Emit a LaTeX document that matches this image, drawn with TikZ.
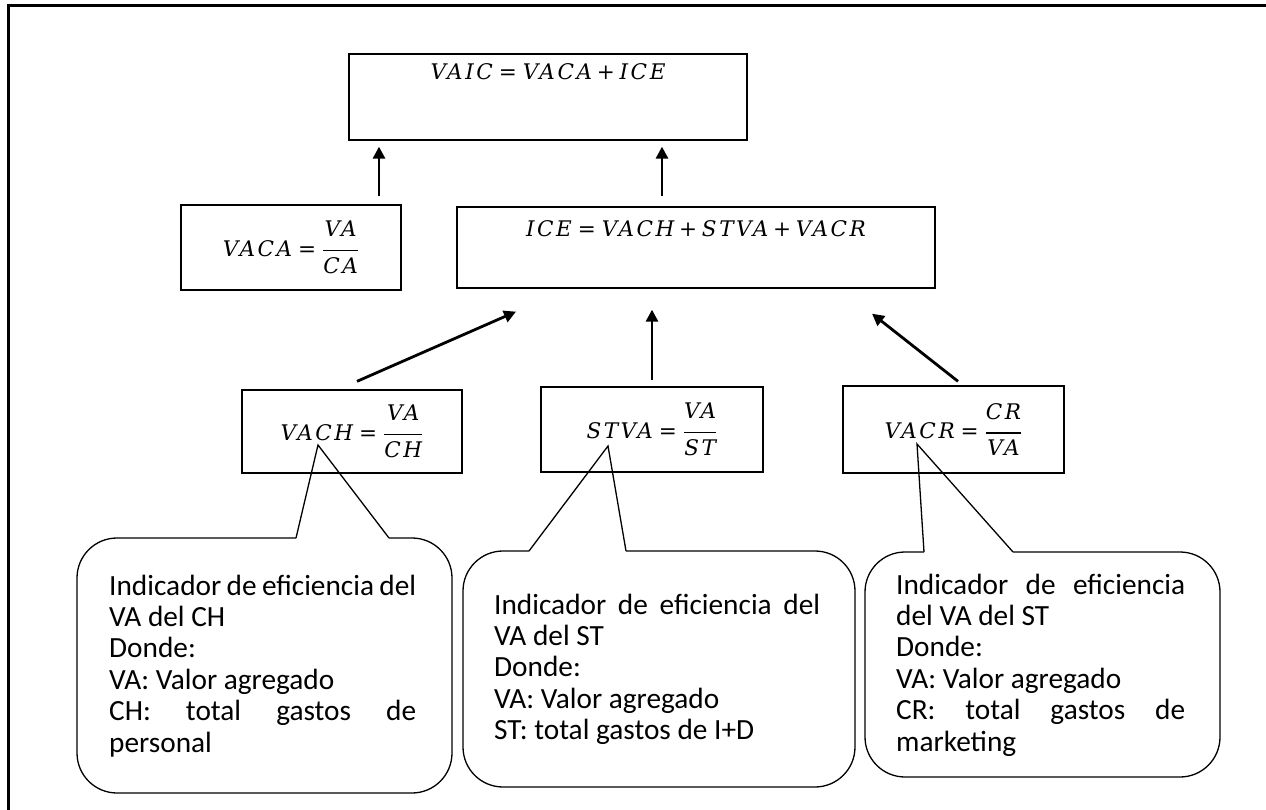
\RequirePackage{fix-cm}
\documentclass[tikz,border=0pt]{standalone}
\usepackage{amsmath}
\usepackage{fontspec}
\newfontfamily\calfont{Carlito}
\newfontfamily\fm{DejaVu Serif}[LetterSpace=12]
\usetikzlibrary{arrows.meta,calc}
\newcommand\jl[2]{\makebox[#1][s]{\spaceskip=0pt\xspaceskip=0pt #2}}
\newcommand\mi[1]{\mbox{\fm\itshape #1}}
\newcommand\eqs{\mathrel{\mbox{\fm=}}}
\newcommand\pls{\mathbin{\mbox{\fm+}}}
\newcommand\fr[2]{\genfrac{}{}{1.1pt}{0}{\mi{#1}\rule[-10pt]{0pt}{10pt}}{\mi{#2}\rule{0pt}{19pt}}}
\begin{document}
\begin{tikzpicture}[x=1pt,y=-1pt,
  box/.style={draw,line width=1.3pt,inner sep=0pt,font=\fm\fontsize{21.5}{25}\selectfont},
  arr/.style={line width=2.8pt,-{Triangle[length=12pt,width=12pt]}},
  callout/.style={line width=1.3pt,rounded corners=40pt},
  pointer/.style={line width=1.3pt,line join=miter},
  ctext/.style={anchor=base west,inner sep=0pt,align=flush left,font=\calfont\fontsize{29.3}{31.4}\selectfont}
]
\useasboundingbox (0,0) rectangle (1266,810);
% outer frame
\draw[line width=3pt] (8,820) -- (8,5.5) -- (1275,5.5);

% callouts
\draw[callout] (296,538) -- (77,538) -- (77,793) -- (452,793) -- (452,538) -- (389,538);
\draw[pointer] (296,538) -- (318,445) -- (389,538);
\draw[callout] (529,551) -- (463,551) -- (463,787) -- (855,787) -- (855,551) -- (626,551);
\draw[pointer] (529,551) -- (608,446) -- (626,551);
\draw[callout] (924,552) -- (865,552) -- (865,777) -- (1220,777) -- (1220,552) -- (1013,552);
\draw[pointer] (924,552) -- (917,444) -- (1013,552);

\node[ctext,text width=307pt] (c1) at (109,595) {\jl{307pt}{Indicador de eficiencia del}\\VA del CH\\Donde:\\VA: Valor agregado\\\jl{307pt}{CH: total gastos de}\\personal};
\node[ctext,text width=326pt] (c2) at (494,614) {\jl{326pt}{Indicador de eficiencia del}\\VA del ST\\Donde:\\VA: Valor agregado\\ST: total gastos de I+D};
\node[ctext,text width=289pt] (c3) at (896,594) {\jl{289pt}{Indicador de eficiencia}\\del VA del ST\\Donde:\\VA: Valor agregado\\\jl{289pt}{CR: total gastos de}\\marketing};

% formula boxes
\node[box,minimum width=398pt,minimum height=86pt,text height=26pt,text depth=60pt] (vaic) at (548,97)
  {$\mi{VAIC}\eqs\mi{VACA}\pls\mi{ICE}$};
\node[box,minimum width=220pt,minimum height=85pt] (vaca) at (291,247.5)
  {$\mi{VACA}\eqs\fr{VA}{CA}$};
\node[box,minimum width=478pt,minimum height=81pt,text height=30pt,text depth=51pt] (ice) at (696,247.5)
  {$\mi{ICE}\eqs\mi{VACH}\pls\mi{STVA}\pls\mi{VACR}$};
\node[box,minimum width=220pt,minimum height=83pt] (vach) at (352,431.5)
  {$\mi{VACH}\eqs\fr{VA}{CH}$};
\node[box,minimum width=222pt,minimum height=85pt] (stva) at (652,429.5)
  {$\mi{STVA}\eqs\fr{VA}{ST}$};
\node[box,minimum width=221pt,minimum height=87pt] (vacr) at (953.5,429.5)
  {$\mi{VACR}\eqs\fr{CR}{VA}$};

% arrows
\draw[arr] ([xshift=88pt,yshift=8pt]vaca.north) -- ([xshift=-169pt,yshift=-6pt]vaic.south);
\draw[arr] ([xshift=-34pt,yshift=10pt]ice.north) -- ([xshift=114pt,yshift=-6pt]vaic.south);
\draw[arr] ($(vach.north)+(5,-8)$) -- ($(ice.south)+(-180,23)$);
\draw[arr] ([yshift=6pt]stva.north) -- ([xshift=-44pt,yshift=-21pt]ice.south);
\draw[arr] ($(vacr.north)+(4.5,-4)$) -- ($(ice.south)+(176,25)$);
\end{tikzpicture}
\end{document}
